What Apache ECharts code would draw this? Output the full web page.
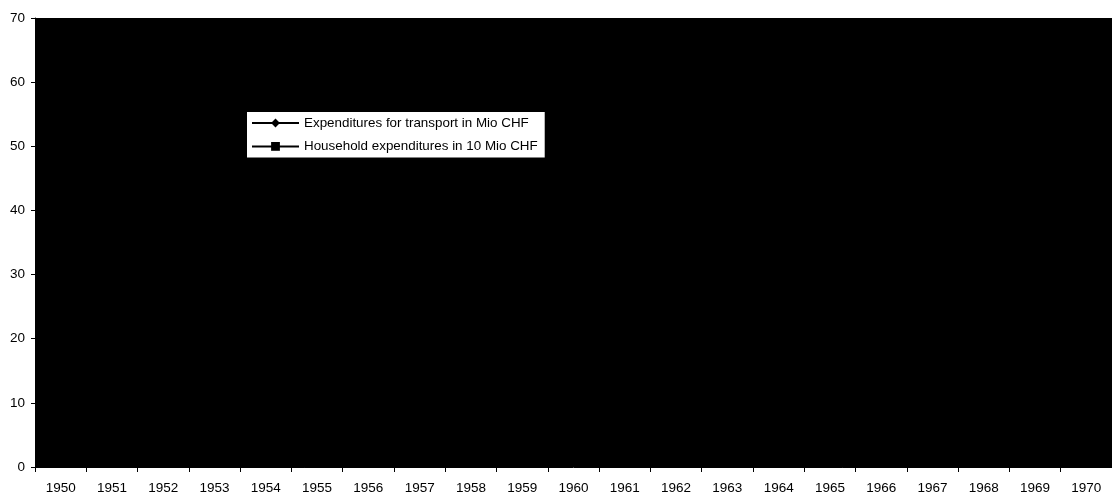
<!DOCTYPE html>
<html>
<head>
<meta charset="utf-8">
<title>Expenditures 1950–1970</title>
<script src="https://cdn.jsdelivr.net/npm/echarts@6/dist/echarts.min.js"></script>
<style>
  html, body { margin: 0; padding: 0; background: #ffffff; overflow: hidden; }
  #chart { width: 1112px; height: 496px; }
</style>
</head>
<body>
<div id="chart"></div>
<script>
// Years on the horizontal axis
const years = ['1950','1951','1952','1953','1954','1955','1956','1957','1958','1959','1960',
               '1961','1962','1963','1964','1965','1966','1967','1968','1969','1970'];

// Series names as they appear in the legend
const seriesNames = [
  'Expenditures for transport in Mio CHF',
  'Household expenditures in 10 Mio CHF'
];

// Both lines are drawn in black on the black plot area, so no point is legible
const transportValues = [];
const householdValues = [];

// Value axis range
const yMin = 0;
const yMax = 70;
const yStep = 10;

const FONT = 'Liberation Sans, Arial, sans-serif';

const chart = echarts.init(document.getElementById('chart'), null, { renderer: 'canvas' });

chart.setOption({
  animation: false,
  backgroundColor: '#ffffff',
  grid: {
    left: 35,
    top: 18,
    right: -8,
    bottom: 29,
    show: true,
    backgroundColor: '#000000',
    borderWidth: 0
  },
  legend: {
    orient: 'vertical',
    left: 247,
    top: 112,
    padding: [4.5, 7, 4.5, 4],
    itemWidth: 47,
    itemHeight: 11,
    itemGap: 10.4,
    backgroundColor: '#ffffff',
    textStyle: { color: '#000000', fontSize: 13.4, fontFamily: FONT },
    data: seriesNames
  },
  xAxis: {
    type: 'category',
    data: years,
    boundaryGap: true,
    axisLine: { show: true, lineStyle: { color: '#000000', width: 1 } },
    axisTick: { show: true, length: 5, lineStyle: { color: '#000000' } },
    axisLabel: { interval: 0, color: '#000000', fontSize: 13.5, fontFamily: FONT, margin: 14 },
    splitLine: { show: false }
  },
  yAxis: {
    type: 'value',
    min: yMin,
    max: yMax,
    interval: yStep,
    axisLine: { show: true, lineStyle: { color: '#000000', width: 1 } },
    axisTick: { show: true, length: 4, lineStyle: { color: '#000000' } },
    axisLabel: { color: '#000000', fontSize: 13.5, fontFamily: FONT, margin: 10 },
    splitLine: { show: false }
  },
  series: [
    {
      name: seriesNames[0],
      type: 'line',
      data: transportValues,
      symbol: 'diamond',
      symbolSize: 8,
      lineStyle: { color: '#000000', width: 1.5 },
      itemStyle: { color: '#000000' }
    },
    {
      name: seriesNames[1],
      type: 'line',
      data: householdValues,
      symbol: 'rect',
      symbolSize: 7,
      lineStyle: { color: '#000000', width: 1.5 },
      itemStyle: { color: '#000000' }
    }
  ]
});
</script>
</body>
</html>
